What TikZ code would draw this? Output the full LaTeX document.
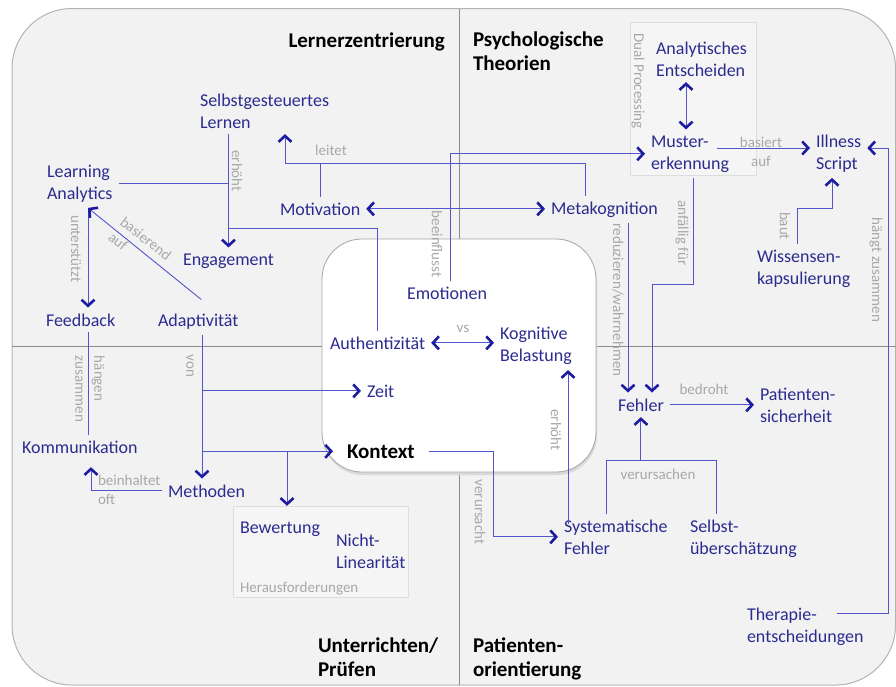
\documentclass[tikz,border=0pt]{standalone}
\usepackage{fontspec}
\setmainfont{Carlito}
\usetikzlibrary{arrows.meta}

\definecolor{panelgray}{HTML}{F2F2F2}
\definecolor{framegray}{HTML}{B4B4B4}
\definecolor{quadgray}{HTML}{8C8C8C}
\definecolor{conceptblue}{HTML}{2B2B90}
\definecolor{linkblue}{HTML}{5454CC}
\definecolor{tipblue}{HTML}{1C1CA0}
\definecolor{relgray}{HTML}{A8A8A8}
\definecolor{groupline}{HTML}{DDDDDD}
\definecolor{groupfill}{HTML}{F5F5F5}

\tikzset{
  chev/.tip={Straight Barb[length=6pt, width=13pt, line width=2.6pt, color=tipblue]},
  concept/.style={text=conceptblue, font=\fontsize{18}{22}\selectfont, align=left,
    inner sep=2pt, outer sep=4pt, anchor=text},
  heading/.style={font=\fontsize{21}{24}\selectfont\bfseries, align=left,
    inner sep=0pt, anchor=text},
  relation/.style={text=relgray, font=\fontsize{15}{19}\selectfont, inner sep=1pt},
  joint/.style={draw=linkblue, line width=0.9pt},
  link/.style={joint, -chev},
  twoway/.style={joint, chev-chev},
  group/.style={draw=groupline, fill=groupfill, inner sep=0pt}
}

\begin{document}
\begin{tikzpicture}[x=1pt, y=-1pt]
  \useasboundingbox (0,0) rectangle (896,686);
  \fill[white] (0,0) rectangle (896,686);
  \draw[framegray, fill=panelgray, line width=1pt, rounded corners=60pt]
    (12,8.5) rectangle (895.5,685);
  \draw[quadgray, line width=1pt] (459,8.5) -- (459,685) (12,346) -- (895.5,346);
  \fill[black!15, rounded corners=40pt] (323,242) rectangle (597,475);
  \draw[black!35, fill=white, line width=0.8pt, rounded corners=40pt] (322,239) rectangle (596,472);

  \node[group, minimum width=126pt, minimum height=153pt] (dualbox) at (693,98.5) {};
  \node[group, minimum width=175pt, minimum height=91pt] (challenges) at (320.5,551.5) {};

  \node[heading, anchor=base east] (lernz) at (445,47) {Lernerzentrierung};
  \node[heading] (psych) at (473,70) {Psychologische\\Theorien};
  \node[heading] (unterr) at (318,676) {Unterrichten/\\Prüfen};
  \node[heading] (patori) at (473,676) {Patienten-\\orientierung};
  \node[heading, inner sep=2pt, outer sep=12pt] (kontext) at (347,458) {Kontext};

  \node[concept] (sgl) at (200,128) {Selbstgesteuertes\\Lernen};
  \node[concept] (la) at (47,199) {Learning\\Analytics};
  \node[concept] (mot) at (280,215) {Motivation};
  \node[concept] (eng) at (183,265) {Engagement};
  \node[concept] (fb) at (46,326) {Feedback};
  \node[concept] (adapt) at (158,326) {Adaptivität};
  \node[concept] (komm) at (22,453) {Kommunikation};
  \node[concept] (meth) at (168,497) {Methoden};
  \node[concept] (bew) at (240,533) {Bewertung};
  \node[concept] (nlin) at (336,568) {Nicht-\\Linearität};
  \node[relation, anchor=text] (herausf) at (240,592) {Herausforderungen};
  \node[concept] (emo) at (407,299) {Emotionen};
  \node[concept] (auth) at (330,349) {Authentizität};
  \node[concept] (kog) at (500,361) {Kognitive\\Belastung};
  \node[concept] (zeit) at (367,397) {Zeit};
  \node[concept] (meta) at (551,214) {Metakognition};
  \node[concept] (muster) at (651,169) {Muster-\\erkennung};
  \node[concept] (analyt) at (656,76) {Analytisches\\Entscheiden};
  \node[relation, rotate=-90] (dual) at (638,81) {Dual Processing};
  \node[concept] (illness) at (816,169) {Illness\\Script};
  \node[concept] (wissen) at (757,284) {Wissensen-\\kapsulierung};
  \node[concept] (fehler) at (618,411) {Fehler};
  \node[concept] (patsich) at (760,422) {Patienten-\\sicherheit};
  \node[concept] (sysf) at (564,554) {Systematische\\Fehler};
  \node[concept] (selbst) at (690,554) {Selbst-\\überschätzung};
  \node[concept] (thera) at (747,642) {Therapie-\\entscheidungen};

  \coordinate (leitbend) at (285,163);
  \coordinate (metaup) at (585,0);
  \coordinate (authbend) at (0,228);
  \coordinate (fbcol) at (88,0);
  \coordinate (voncol) at (202,0);
  \coordinate (dropcol) at (287,0);
  \coordinate (kommcol) at (91,0);
  \coordinate (konbend) at (493,0);
  \coordinate (erhcol) at (568,0);
  \coordinate (redcol) at (628,0);
  \coordinate (anfbend) at (652,284);
  \coordinate (musterout) at (717,148);
  \coordinate (dualcol) at (686,0);
  \coordinate (bautbend) at (797,208);
  \coordinate (illcol) at (832,0);
  \coordinate (theraout) at (837,613);
  \coordinate (hzbend) at (888,148);
  \coordinate (verrow) at (0,460);
  \coordinate (verleft) at (606,0);
  \coordinate (verright) at (716,0);

  \draw[link] (meta.north -| metaup) |- (leitbend) -- (leitbend |- sgl.south);
  \draw[joint] (mot.north) -- (mot.north |- leitbend);
  \node[relation] (leitet) at (331,150) {leitet};
  \draw[twoway] (mot.east) -- (mot.east -| meta.west);
  \draw[link] ([xshift=3pt]emo.north) |- (muster.west);
  \node[relation, rotate=-90] (beeinfl) at (437,244) {beeinflusst};

  \draw[link] (sgl.south -| eng.north) -- (eng.north);
  \draw[joint] (la.east) -- (la.east -| eng.north);
  \draw[joint] (auth.north) |- (authbend -| eng.north);
  \node[relation, rotate=-90] (erhoeht) at (237,171) {erhöht};

  \draw[link] (la.south -| fbcol) -- (fb.north -| fbcol);
  \node[relation, rotate=-90] (unterst) at (76,249) {unterstützt};
  \draw[link] ([shift={(3pt,8pt)}]adapt.north) -- (la.south -| fbcol);
  \node[relation, rotate=-38, align=left] (basierend) at (140,246) {basierend\\auf};
  \draw[joint] (fb.south -| fbcol) -- (komm.north -| fbcol);
  \node[relation, rotate=-90, align=left] (haengen) at (90,389) {hängen\\zusammen};

  \draw[link] (adapt.south -| voncol) -- (meth.north -| voncol);
  \draw[link] (zeit.west -| voncol) -- (zeit.west);
  \draw[link] (kontext.west -| voncol) -- (kontext.west);
  \draw[link] (kontext.west -| dropcol) -- (challenges.north -| dropcol);
  \node[relation, rotate=-90] (von) at (190,366) {von};
  \draw[link, shorten >=8pt] (meth.west) -| (komm.south -| kommcol);
  \node[relation, anchor=text, align=left] (beinh) at (98,504) {beinhaltet\\oft};

  \draw[twoway] (auth.east) -- (auth.east -| kog.west);
  \node[relation] (vs) at (463,329) {vs};
  \draw[link] (kontext.east) -| (konbend |- sysf.west) -- (sysf.west);
  \node[relation, rotate=-90] (verurs) at (480,512) {verursacht};
  \draw[link, shorten <=-10pt] (sysf.north -| erhcol) -- (kog.south -| erhcol);
  \node[relation, rotate=-90] (erhoehtb) at (556,430) {erhöht};

  \draw[link] (meta.south -| redcol) -- (fehler.north -| redcol);
  \node[relation, rotate=-90] (reduz) at (618,300) {reduzieren/wahrnehmen};
  \draw[link] ([xshift=3pt]muster.south) |- (anfbend) -- (anfbend |- fehler.north);
  \node[relation, rotate=-90] (anfaellig) at (682,233) {anfällig für};
  \draw[link] (musterout) -- (illness.west |- musterout);
  \node[relation, align=center] (basiert) at (761,152) {basiert\\auf};
  \draw[twoway] (analyt.south -| dualcol) -- (muster.north -| dualcol);
  \draw[link] (wissen.north -| bautbend) |- (illcol |- bautbend) -- (illness.south -| illcol);
  \node[relation, rotate=-90] (baut) at (785,226) {baut};
  \draw[link] (theraout) -| (hzbend) -- (hzbend -| illness.east);
  \node[relation, rotate=-90] (haengt) at (876,270) {hängt zusammen};

  \draw[link] (fehler.east) -- (fehler.east -| patsich.west);
  \node[relation] (bedroht) at (704,389) {bedroht};
  \draw[joint] (sysf.north -| verleft) |- (verright |- verrow) -- (selbst.north -| verright);
  \draw[link] (verrow -| fehler.south) -- (fehler.south);
  \node[relation] (verursachen) at (658,474) {verursachen};
\end{tikzpicture}
\end{document}
